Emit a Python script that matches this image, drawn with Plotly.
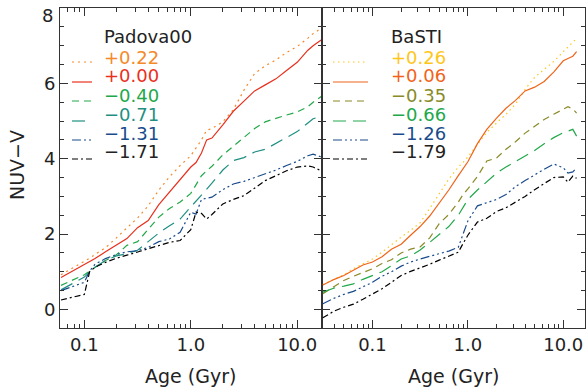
import plotly.graph_objects as go

# ---------------- data ----------------
padova_age = [0.0603, 0.100, 0.112, 0.126, 0.158, 0.200, 0.251, 0.316, 0.398, 0.501,
              0.631, 0.794, 1.00, 1.12, 1.26, 1.41, 1.58, 2.00, 2.51, 3.16,
              3.98, 5.01, 6.31, 7.94, 10.0, 12.6, 14.1, 16.8]
padova_p022 = [0.92, 1.27, 1.36, 1.46, 1.64, 1.90, 2.15, 2.43, 2.75, 3.17,
               3.52, 3.82, 4.08, 4.28, 4.50, 4.76, 4.80, 4.98, 5.30, 5.82,
               6.26, 6.47, 6.62, 6.82, 6.98, 7.20, 7.32, 7.46]
padova_p000 = [0.85, 1.18, 1.26, 1.35, 1.53, 1.70, 1.88, 2.17, 2.36, 2.78,
               3.12, 3.45, 3.78, 3.90, 4.15, 4.50, 4.55, 4.90, 5.26, 5.53,
               5.80, 5.96, 6.12, 6.34, 6.56, 6.88, 7.00, 7.15]
padova_m040 = [0.64, 0.92, 1.02, 1.12, 1.30, 1.45, 1.70, 1.80, 2.12, 2.45,
               2.68, 2.85, 3.08, 3.30, 3.55, 3.68, 3.80, 4.10, 4.33, 4.58,
               4.80, 4.98, 5.08, 5.16, 5.24, 5.38, 5.50, 5.65]
padova_m071 = [0.52, 0.86, 1.00, 1.12, 1.30, 1.42, 1.48, 1.57, 1.80, 2.03,
               2.22, 2.40, 2.72, 2.87, 3.05, 3.20, 3.35, 3.70, 3.95, 4.03,
               4.18, 4.25, 4.40, 4.55, 4.72, 4.95, 5.06, 5.13]
padova_m131 = [0.50, 0.72, 1.02, 1.20, 1.35, 1.46, 1.53, 1.56, 1.65, 1.80,
               1.87, 2.05, 2.58, 2.53, 2.92, 2.96, 2.98, 3.18, 3.33, 3.40,
               3.50, 3.58, 3.70, 3.82, 3.93, 4.08, 4.12, 4.05]
padova_m171 = [0.25, 0.40, 1.00, 1.12, 1.25, 1.36, 1.44, 1.52, 1.61, 1.70,
               1.78, 1.83, 2.12, 2.58, 2.55, 2.40, 2.52, 2.80, 2.92, 3.02,
               3.22, 3.42, 3.55, 3.68, 3.78, 3.81, 3.78, 3.68]

basti_age = [0.0302, 0.0398, 0.0501, 0.0631, 0.0794, 0.100, 0.126, 0.158, 0.200, 0.251,
             0.316, 0.398, 0.501, 0.631, 0.794, 0.891, 1.00, 1.26, 1.58, 2.00,
             2.51, 3.16, 3.98, 5.01, 6.31, 7.94, 10.0, 11.2, 12.6, 13.8]
basti_p026 = [0.66, 0.81, 0.92, 1.08, 1.22, 1.34, 1.52, 1.72, 1.92, 2.10,
              2.30, 2.68, 3.08, 3.46, 3.78, 3.90, 4.05, 4.38, 4.70, 4.95,
              5.18, 5.45, 5.84, 6.16, 6.38, 6.58, 6.84, 6.96, 7.08, 7.19]
basti_p006 = [0.65, 0.80, 0.90, 1.05, 1.18, 1.26, 1.40, 1.60, 1.73, 1.97,
              2.20, 2.48, 2.82, 3.17, 3.55, 3.72, 3.92, 4.40, 4.78, 5.08,
              5.34, 5.55, 5.80, 5.90, 6.05, 6.30, 6.60, 6.66, 6.72, 6.84]
basti_m035 = [0.42, 0.62, 0.77, 0.88, 0.98, 1.08, 1.22, 1.32, 1.50, 1.60,
              1.66, 1.90, 2.28, 2.52, 2.85, 3.05, 3.20, 3.53, 3.94, 4.02,
              4.25, 4.45, 4.68, 4.85, 5.04, 5.18, 5.30, 5.38, 5.32, 5.21]
basti_m066 = [0.46, 0.57, 0.62, 0.68, 0.80, 0.90, 1.00, 1.16, 1.34, 1.42,
              1.58, 1.78, 1.98, 2.20, 2.50, 2.72, 2.92, 3.17, 3.40, 3.62,
              3.78, 3.93, 4.08, 4.22, 4.40, 4.56, 4.69, 4.74, 4.78, 4.60]
basti_m126 = [0.15, 0.30, 0.40, 0.48, 0.60, 0.72, 0.88, 1.00, 1.15, 1.26,
              1.34, 1.40, 1.48, 1.55, 1.65, 2.00, 2.35, 2.75, 2.83, 2.92,
              3.05, 3.26, 3.42, 3.58, 3.72, 3.86, 3.76, 3.62, 3.65, 3.76]
basti_m179 = [-0.22, -0.04, 0.06, 0.14, 0.27, 0.40, 0.55, 0.72, 0.90, 1.01,
              1.10, 1.20, 1.31, 1.42, 1.52, 1.75, 1.97, 2.32, 2.42, 2.60,
              2.70, 2.85, 3.00, 3.18, 3.35, 3.50, 3.52, 3.38, 3.54, 3.48]

padova_labels = ["+0.22", "+0.00", "\u22120.40", "\u22120.71", "\u22121.31", "\u22121.71"]
basti_labels = ["+0.26", "+0.06", "\u22120.35", "\u22120.66", "\u22121.26", "\u22121.79"]

x_tickvals = [0.1, 1.0, 10.0]
x_ticktext = ["0.1", "1.0", "10.0"]
y_tickvals = [0, 2, 4, 6, 8]
y_ticktext = ["0", "2", "4", "6", ""]   # top label "8" is placed just inside the frame below
y_top_label = "8"

# ---------------- styles ----------------
FONT = "DejaVu Sans"
DOT = "2px,4px"
DASH = "7px,5px"
LDASH = "13px,7px"
DDDD = "9px,3px,2px,3px,2px,3px,2px,3px"
DDOT = "6px,3px,2px,3px"

padova_series = [
    (padova_p022, "#F5892A", DOT),
    (padova_p000, "#E8301E", "solid"),
    (padova_m040, "#22A84A", DASH),
    (padova_m071, "#1F8F82", LDASH),
    (padova_m131, "#1A4C8C", DDDD),
    (padova_m171, "#000000", DDOT),
]
basti_series = [
    (basti_p026, "#FFC61A", "1.5px,3.5px"),
    (basti_p006, "#F0641A", "solid"),
    (basti_m035, "#8A8A28", DASH),
    (basti_m066, "#22A84A", LDASH),
    (basti_m126, "#1A4C8C", DDDD),
    (basti_m179, "#000000", DDOT),
]

W, H = 586, 390


def px(x):
    return x / W


def py(y):
    return 1 - y / H


fig = go.Figure()
for vals, col, dash in padova_series:
    fig.add_trace(go.Scatter(x=padova_age, y=vals, mode="lines", xaxis="x", yaxis="y",
                             line=dict(color=col, width=1.2, dash=dash), showlegend=False))
for vals, col, dash in basti_series:
    fig.add_trace(go.Scatter(x=basti_age, y=vals, mode="lines", xaxis="x2", yaxis="y2",
                             line=dict(color=col, width=1.2, dash=dash), showlegend=False))

AX = "#333333"
common = dict(showline=True, linecolor=AX, linewidth=1, mirror="allticks",
              ticks="inside", ticklen=8, tickwidth=1, tickcolor=AX,
              showgrid=False, zeroline=False,
              tickfont=dict(family=FONT, size=18, color="#222"))

minor_left = [0.06, 0.07, 0.08, 0.09, 0.2, 0.3, 0.4, 0.5, 0.6, 0.7, 0.8, 0.9,
              2, 3, 4, 5, 6, 7, 8, 9]
minor_right = [0.04, 0.05, 0.06, 0.07, 0.08, 0.09, 0.2, 0.3, 0.4, 0.5, 0.6, 0.7, 0.8, 0.9,
               2, 3, 4, 5, 6, 7, 8, 9]

ydom = [1 - 328.3 / H, 1 - 8 / H]
yrange = [-0.5, 8.0005]

fig.update_layout(
    width=W, height=H,
    margin=dict(l=0, r=0, t=0, b=0),
    paper_bgcolor="white", plot_bgcolor="white",
    font=dict(family=FONT, color="#222"),
    xaxis=dict(common, type="log", domain=[px(60), px(322)],
               range=[-1.229, 1.233], tickmode="array",
               tickvals=x_tickvals, ticktext=x_ticktext, anchor="y",
               minor=dict(tickvals=minor_left, ticks="inside", ticklen=4,
                          tickcolor=AX, showgrid=False)),
    yaxis=dict(common, domain=ydom, range=yrange, tickmode="array",
               tickvals=y_tickvals, ticktext=y_ticktext, anchor="x",
               minor=dict(dtick=0.5, tick0=0, ticks="inside", ticklen=4,
                          tickcolor=AX, showgrid=False)),
    xaxis2=dict(common, type="log", domain=[px(322), px(585)],
                range=[-1.529, 1.228], tickmode="array",
                tickvals=x_tickvals, ticktext=x_ticktext, anchor="y2",
                minor=dict(tickvals=minor_right, ticks="inside", ticklen=4,
                           tickcolor=AX, showgrid=False)),
    yaxis2=dict(common, domain=ydom, range=yrange, tickmode="array",
                tickvals=y_tickvals, anchor="x2", showticklabels=False,
                minor=dict(dtick=0.5, tick0=0, ticks="inside", ticklen=4,
                           tickcolor=AX, showgrid=False)),
)

annotations = []
shapes = []
# top y label, nudged down so it stays inside the page (as in the reference)
annotations.append(dict(text=y_top_label, x=px(54), y=py(15.5), xref="paper", yref="paper",
                        showarrow=False, xanchor="right", yanchor="middle", borderpad=0,
                        font=dict(family=FONT, size=18, color="#222")))
# axis titles
for xc in (190, 453):
    annotations.append(dict(text="Age (Gyr)", x=px(xc), y=py(376), xref="paper", yref="paper",
                            showarrow=False, xanchor="center", yanchor="middle",
                            font=dict(family=FONT, size=19, color="#222")))
annotations.append(dict(text="NUV\u2212V", x=px(17), y=py(165), xref="paper", yref="paper",
                        showarrow=False, xanchor="center", yanchor="middle", textangle=-90,
                        font=dict(family=FONT, size=19, color="#222")))

# in-panel legends
row_text_y = [57, 76, 95, 114, 133, 152]
row_line_y = [62, 82, 101, 121, 140, 159]


def add_legend(title, labels, series, text_x, line_x0, line_x1):
    annotations.append(dict(text=title, x=px(text_x), y=py(36), xref="paper", yref="paper",
                            showarrow=False, xanchor="left", yanchor="middle",
                            borderpad=0,
                            font=dict(family=FONT, size=18, color="#222")))
    for lab, (vals, col, dash), ty, ly in zip(labels, series, row_text_y, row_line_y):
        tcol = "#222" if col == "#000000" else col
        annotations.append(dict(text=lab, x=px(text_x), y=py(ty), xref="paper", yref="paper",
                                showarrow=False, xanchor="left", yanchor="middle",
                                borderpad=0,
                                font=dict(family=FONT, size=18, color=tcol)))
        shapes.append(dict(type="line", xref="paper", yref="paper",
                           x0=px(line_x0), x1=px(line_x1), y0=py(ly), y1=py(ly),
                           line=dict(color=col, width=1.2, dash=dash)))


add_legend("Padova00", padova_labels, padova_series, 103, 72, 92)
add_legend("BaSTI", basti_labels, basti_series, 390, 333, 368)

fig.update_layout(annotations=annotations, shapes=shapes)
fig.write_html("out.html")
